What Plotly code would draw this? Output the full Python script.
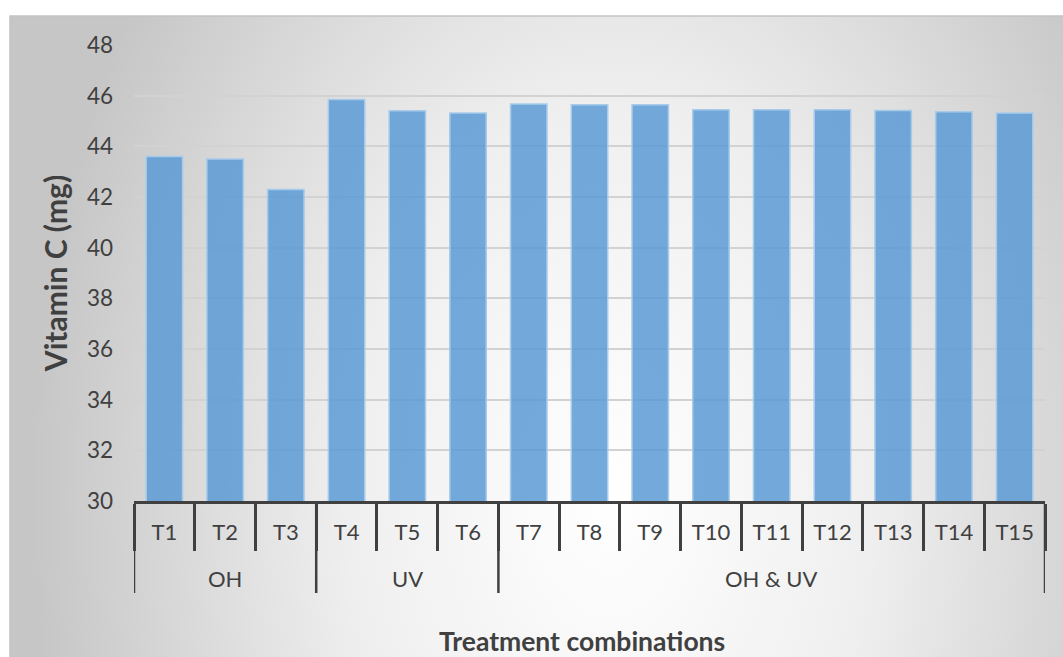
import urllib.parse
import plotly.graph_objects as go

# Treatment codes, their groups and measured vitamin C
treatments = ["T1", "T2", "T3", "T4", "T5", "T6", "T7", "T8", "T9",
              "T10", "T11", "T12", "T13", "T14", "T15"]
vitamin_c = [43.6, 43.5, 42.3, 45.85, 45.4, 45.32, 45.67, 45.64, 45.64,
             45.44, 45.44, 45.44, 45.41, 45.37, 45.32]
group_names = ["OH", "UV", "OH & UV"]
group_sizes = [3, 3, 9]

y_ticks = [30, 32, 34, 36, 38, 40, 42, 44, 46, 48]

FONT = "Lato, Calibri, Carlito, sans-serif"
INK = "#404040"

W, H = 1063, 657
L, R, T, B = 134, 18, 45, 156
PW, PH = W - L - R, H - T - B

# soft radial grey-to-white backdrop for the chart area
bg_svg = (
    "<svg xmlns='http://www.w3.org/2000/svg' width='1060' height='645' preserveAspectRatio='none'>"
    "<defs><radialGradient id='g' gradientUnits='userSpaceOnUse' cx='600' cy='480' r='580' "
    "gradientTransform='translate(600 480) scale(1 1.5) translate(-600 -480)'>"
    "<stop offset='0' stop-color='#ffffff'/>"
    "<stop offset='0.45' stop-color='#efefef'/>"
    "<stop offset='1' stop-color='#c6c6c6'/>"
    "</radialGradient></defs>"
    "<rect width='1060' height='645' fill='url(#g)'/></svg>"
)
bg_uri = "data:image/svg+xml;charset=utf-8," + urllib.parse.quote(bg_svg)


def px_x(px):
    return (px - L) / PW


def px_y(py):
    return 1 - (py - T) / PH


fig = go.Figure(
    go.Bar(
        x=treatments,
        y=vitamin_c,
        marker=dict(color="rgba(91,155,213,0.85)",
                    line=dict(color="#a9cbea", width=1.5)),
        width=0.6,
        hoverinfo="x+y",
    )
)

# group dividers and group labels under the treatment codes
shapes = [dict(type="rect", xref="paper", yref="paper",
               x0=px_x(10), x1=px_x(W + 20), y0=px_y(H + 20), y1=px_y(16),
               line=dict(color="#c4c4c4", width=1.5),
               fillcolor="rgba(0,0,0,0)", layer="below")]
annotations = []
start = 0
bounds = [-0.5]
for name, size in zip(group_names, group_sizes):
    end = start + size
    bounds.append(end - 0.5)
    annotations.append(dict(text=name, xref="x", yref="paper",
                            x=(start + end - 1) / 2, y=px_y(578),
                            showarrow=False, yanchor="middle",
                            font=dict(size=22, color=INK, family=FONT)))
    start = end
for b in bounds:
    shapes.append(dict(type="line", xref="x", yref="paper",
                       x0=b, x1=b, y0=0, y1=px_y(593),
                       line=dict(color=INK, width=2.5)))

annotations.append(dict(text="<b>Treatment combinations</b>", xref="paper", yref="paper",
                        x=px_x(582), y=px_y(641), yanchor="middle", showarrow=False,
                        font=dict(size=26.5, color=INK, family=FONT)))

fig.update_layout(
    width=W, height=H,
    margin=dict(l=L, r=R, t=T, b=B),
    paper_bgcolor="white",
    plot_bgcolor="rgba(0,0,0,0)",
    showlegend=False,
    font=dict(family=FONT, color=INK, size=22),
    images=[dict(source=bg_uri, xref="paper", yref="paper",
                 x=px_x(10), y=px_y(16),
                 sizex=1060 / PW, sizey=645 / PH,
                 xanchor="left", yanchor="top", sizing="stretch",
                 layer="below")],
    shapes=shapes,
    annotations=annotations,
)

fig.update_xaxes(
    type="category",
    range=[-0.5, len(treatments) - 0.5],
    showline=True, linecolor=INK, linewidth=2.5,
    ticks="outside", tickson="boundaries", ticklen=47, tickwidth=2.5, tickcolor=INK,
    ticklabelstandoff=10,
    tickfont=dict(size=22, color=INK),
    showgrid=False,
)
fig.update_yaxes(
    range=[30, 48], tickvals=y_ticks,
    showgrid=True, gridcolor="#d2d2d2", gridwidth=1.5,
    zeroline=False, showline=False, ticks="",
    ticklabelstandoff=20,
    tickfont=dict(size=22.5, color=INK),
    title=dict(text="<b>Vitamin C (mg)</b>", font=dict(size=30, color=INK),
               standoff=10),
)

fig.write_html("out.html")
